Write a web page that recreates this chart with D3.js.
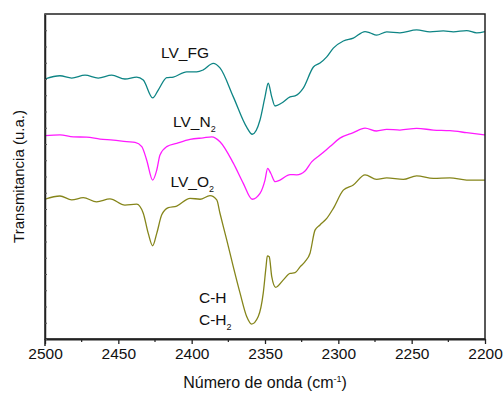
<!DOCTYPE html>
<html lang="es">
<head>
<meta charset="utf-8">
<title>FTIR LV</title>
<script src="https://cdn.jsdelivr.net/npm/d3@7"></script>
<style>
  body { margin: 0; background: #fff; }
  text { font-family: Arial, "Liberation Sans", sans-serif; fill: #111; }
</style>
</head>
<body>
<script>
// wavenumbers (cm-1) and transmittance (u.a.)
var fgWn = [2500, 2489.8, 2481.8, 2472.7, 2463.7, 2454.5, 2445.5, 2437.5, 2433, 2426.6, 2422.8, 2417, 2412.5,
  2403.4, 2396.6, 2392.1, 2385.3, 2380.7, 2371.6, 2362.5, 2358.7, 2353.4, 2350, 2347.8, 2345.4, 2343.2,
  2338.6, 2332.9, 2329.5, 2323.9, 2317, 2312.5, 2307.9, 2303.4, 2296.6, 2289.8, 2281.8, 2278.4, 2273.9,
  2267, 2258, 2246.6, 2237.5, 2228.4, 2221.6, 2212.5, 2205.7, 2200];
var fgT = [80.0, 81.0, 80.3, 81.2, 80.3, 81.2, 80.0, 80.6, 79.7, 74.2, 76.6, 80.4, 80.6,
  82.2, 82.2, 82.8, 84.8, 83.4, 74.5, 65.2, 63.0, 67.4, 74.5, 78.7, 74.5, 71.7,
  72.6, 74.5, 74.8, 77.2, 83.7, 84.9, 86.8, 89.5, 91.7, 92.6, 94.6, 94.2, 93.5,
  94.5, 94.2, 95.1, 94.5, 94.8, 94.5, 94.9, 94.2, 94.6];

var n2Wn = [2500, 2489.8, 2480.7, 2471.6, 2462.5, 2453.4, 2444.3, 2438.6, 2434, 2430.7, 2426.6, 2423.8, 2421.6,
  2417, 2410.2, 2401.1, 2392.1, 2386.3, 2380.7, 2371.6, 2364.8, 2358.7, 2353.4, 2350, 2348.2, 2346.1,
  2343, 2339.8, 2332.9, 2328.4, 2322.7, 2318.2, 2312.5, 2305.7, 2298.9, 2289.8, 2281.8, 2273.9, 2267,
  2258, 2246.6, 2235.2, 2223.9, 2212.5, 2200];
var n2T = [62.6, 62.8, 62.2, 62.1, 61.5, 61.2, 60.7, 60.5, 59.2, 55.1, 48.9, 52.0, 56.6,
  59.2, 60.2, 61.4, 61.9, 62.2, 60.7, 54.1, 47.9, 43.0, 44.8, 48.9, 52.5, 51.0,
  48.4, 48.9, 50.6, 50.5, 51.7, 54.5, 56.6, 59.2, 61.8, 63.5, 64.9, 64.0, 64.5,
  64.3, 64.8, 64.3, 64.1, 63.5, 62.8];

var o2Wn = [2500, 2489.8, 2481.8, 2473.9, 2464.8, 2455.7, 2445.5, 2437.5, 2433, 2429.6, 2426.6, 2423.8, 2420.4,
  2415.9, 2410.2, 2401.1, 2394.3, 2387.5, 2382.9, 2380.7, 2376.1, 2371.6, 2367, 2362.5, 2359.1, 2354.6,
  2351.2, 2349.3, 2348.4, 2347.1, 2345.4, 2342.7, 2337.5, 2332.9, 2329.5, 2326.1, 2322.7, 2319.3, 2315.9,
  2312.5, 2307.9, 2303.4, 2296.6, 2289.8, 2281.8, 2273.9, 2267, 2255.7, 2246.6, 2235.2, 2223.9, 2212.5, 2200];
var o2T = [43.0, 44.0, 42.8, 43.5, 42.2, 43.1, 41.2, 41.5, 38.7, 32.5, 28.7, 32.5, 38.2,
  40.4, 40.9, 43.3, 43.0, 44.1, 42.8, 38.7, 30.5, 22.2, 14.1, 6.9, 4.6, 6.9,
  14.1, 22.2, 25.6, 25.3, 19.2, 15.9, 18.2, 20.2, 20.4, 22.2, 23.8, 26.4, 33.5,
  35.1, 37.1, 40.2, 45.8, 47.4, 50.5, 49.1, 49.6, 49.1, 50.2, 49.4, 49.6, 48.9, 48.9];

var xTicks = [2500, 2450, 2400, 2350, 2300, 2250, 2200];
var xMinor = [2475, 2425, 2375, 2325, 2275, 2225];
var yTicks = d3.range(0, 101, 5);

var series = [
  {wn: fgWn, t: fgT, color: "#0e8585"},
  {wn: n2Wn, t: n2T, color: "#ff1aff"},
  {wn: o2Wn, t: o2T, color: "#85851a"}
];

var W = 504, H = 393;
var margin = {top: 14, right: 19, bottom: 54, left: 45};
var w = W - margin.left - margin.right,
    h = H - margin.top - margin.bottom;

var svg = d3.select("body").append("svg")
  .attr("width", W)
  .attr("height", H);

var g = svg.append("g")
  .attr("transform", "translate(" + margin.left + "," + margin.top + ")");

var x = d3.scaleLinear().domain([2500, 2200]).range([0, w]);
var y = d3.scaleLinear().domain([0, 100]).range([h, 0]);

var line = d3.line()
  .x(function(d) { return x(d[0]); })
  .y(function(d) { return y(d[1]); })
  .curve(d3.curveMonotoneX);

series.forEach(function(s) {
  // sort by screen x so the monotone curve runs left to right
  var pts = d3.zip(s.wn, s.t).sort(function(a, b) { return b[0] - a[0]; });
  g.append("path")
    .datum(pts)
    .attr("fill", "none")
    .attr("stroke", s.color)
    .attr("stroke-width", 1.3)
    .attr("d", line);
});

// frame
g.append("rect")
  .attr("width", w).attr("height", h)
  .attr("fill", "none")
  .attr("stroke", "#222")
  .attr("stroke-width", 1.5);

// bottom axis
var xAxis = g.append("g")
  .attr("transform", "translate(0," + h + ")")
  .call(d3.axisBottom(x).tickValues(xTicks).tickFormat(d3.format("d"))
    .tickSize(5).tickSizeOuter(0).tickPadding(4));
xAxis.select(".domain").attr("stroke", "#222").attr("stroke-width", 2);
xAxis.selectAll(".tick line").attr("stroke", "#222").attr("stroke-width", 1.3);
xAxis.selectAll("text").attr("font-size", "15.5px").attr("font-family", "Arial, 'Liberation Sans', sans-serif").attr("fill", "#111");

g.append("g")
  .attr("transform", "translate(0," + h + ")")
  .selectAll("line")
  .data(xMinor)
  .enter()
  .append("line")
  .attr("x1", function(d) { return x(d); })
  .attr("x2", function(d) { return x(d); })
  .attr("y1", 0).attr("y2", 3)
  .attr("stroke", "#222").attr("stroke-width", 1.2);

// left axis, ticks pointing inward, no labels
var yAxis = g.append("g")
  .call(d3.axisRight(y).tickValues(yTicks).tickSize(2).tickSizeOuter(0).tickFormat(""));
yAxis.select(".domain").attr("stroke", "#222").attr("stroke-width", 1.5);
yAxis.selectAll(".tick line").attr("stroke", "#555").attr("stroke-width", 1);

g.append("line")
  .attr("x1", 0).attr("x2", 0)
  .attr("y1", h).attr("y2", h + 7)
  .attr("stroke", "#222").attr("stroke-width", 1.5);

// axis titles
svg.append("text")
  .attr("x", margin.left + w / 2)
  .attr("y", 388)
  .attr("text-anchor", "middle")
  .attr("font-size", "16px")
  .html('Número de onda (cm<tspan dy="-6" font-size="9px">-1</tspan><tspan dy="6">)</tspan>');

svg.append("text")
  .attr("transform", "translate(24," + (margin.top + h / 2) + ") rotate(-90)")
  .attr("text-anchor", "middle")
  .attr("font-size", "15px")
  .text("Transmitancia (u.a.)");

// curve labels
function label(px, py, main, sub) {
  var t = svg.append("text")
    .attr("x", px).attr("y", py)
    .attr("font-size", "15.5px")
    .text(main);
  if (sub) {
    t.append("tspan").attr("dy", 5).attr("font-size", "9px").text(sub);
  }
}
label(161, 58, "LV_FG");
label(173, 127, "LV_N", "2");
label(170.5, 187, "LV_O", "2");
label(199, 303, "C-H");
label(199, 325, "C-H", "2");
</script>
</body>
</html>
